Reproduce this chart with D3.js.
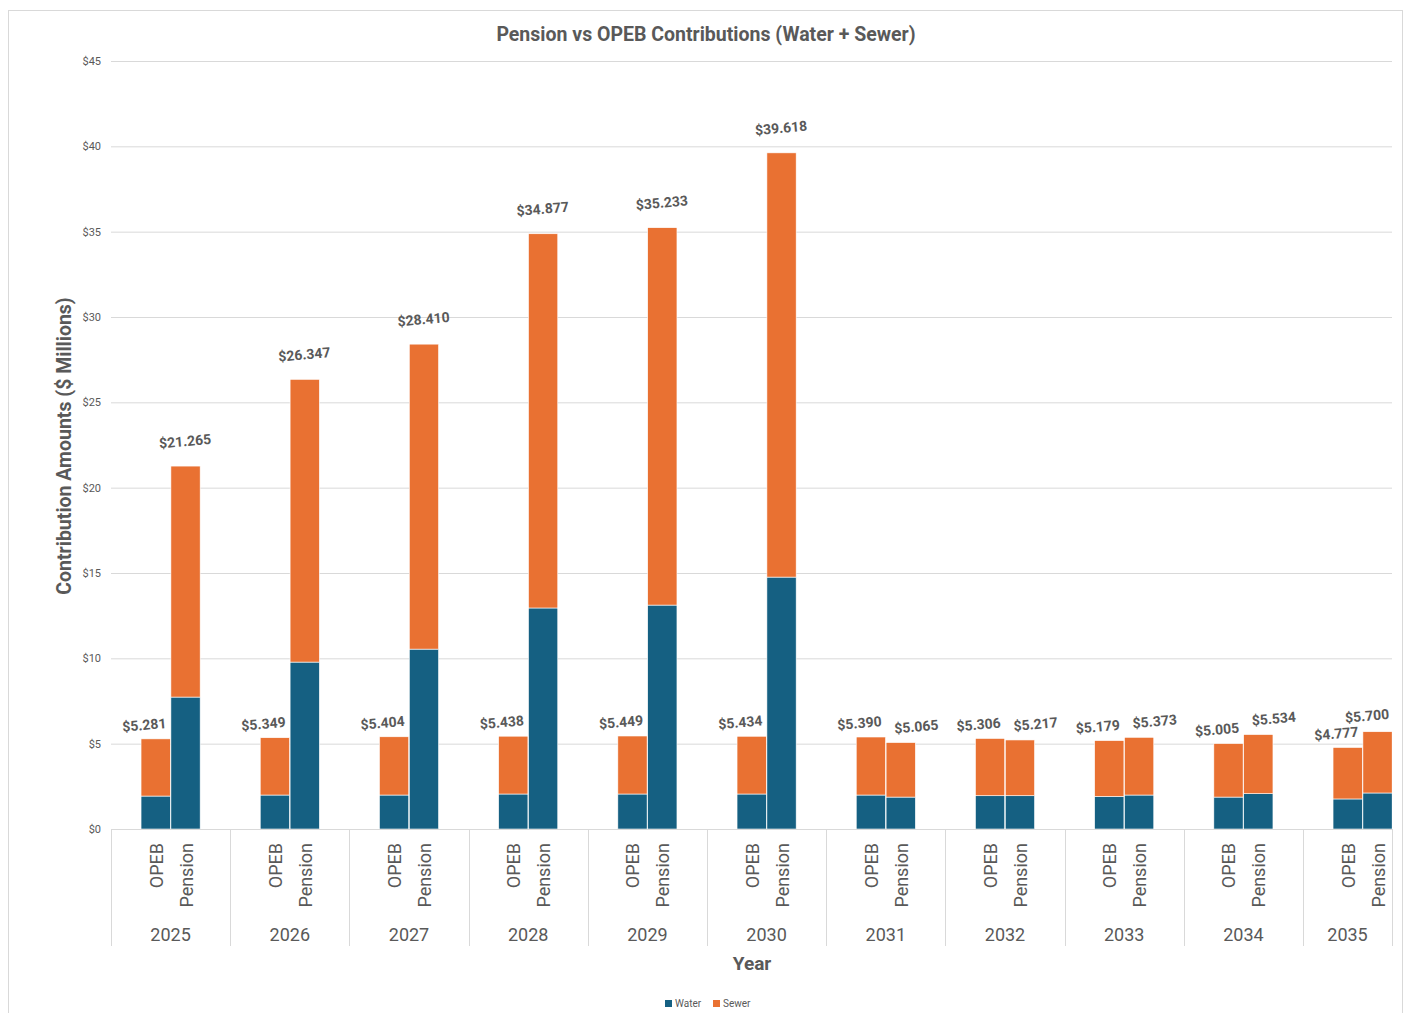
<!DOCTYPE html>
<html lang="en">
<head>
    <meta charset="utf-8">
    <title>Pension vs OPEB</title>
    <script src="https://cdn.jsdelivr.net/npm/d3@7"></script>
    <style type="text/css">
        body { margin: 0; background: #fff; }
        text { font-family: Roboto, "Liberation Sans", sans-serif; fill: #595959; }
        .grid line { stroke: #d9d9d9; stroke-width: 1; }
        .grid path { display: none; }
        .ytick text { font-size: 11px; }
    </style>
</head>
<body>
    <div id="chart"></div>
    <script>
        // data
        var years = ["2025", "2026", "2027", "2028", "2029", "2030", "2031", "2032", "2033", "2034", "2035"];
        var types = ["OPEB", "Pension"];
        var opebTotal = [5.281, 5.349, 5.404, 5.438, 5.449, 5.434, 5.390, 5.306, 5.179, 5.005, 4.777];
        var opebWater = [1.93, 1.99, 1.99, 2.05, 2.05, 2.05, 1.99, 1.95, 1.91, 1.87, 1.76];
        var pensionTotal = [21.265, 26.347, 28.410, 34.877, 35.233, 39.618, 5.065, 5.217, 5.373, 5.534, 5.700];
        var pensionWater = [7.73, 9.78, 10.54, 12.95, 13.12, 14.76, 1.87, 1.95, 1.99, 2.07, 2.11];
        var yTicks = [0, 5, 10, 15, 20, 25, 30, 35, 40, 45];
        var seriesNames = ["Water", "Sewer"];
        var colors = { Water: "#156082", Sewer: "#E97132" };

        var W = 1409, H = 1013;
        // the last year group is cut off by the right end of the plot
        var plot = { left: 111, right: 1392, top: 61, bottom: 829, groupW: 119.2 };

        var rows = [];
        years.forEach(function (y, i) {
            rows.push({ year: y, type: "OPEB", Water: opebWater[i], Sewer: opebTotal[i] - opebWater[i], total: opebTotal[i], i: i });
            rows.push({ year: y, type: "Pension", Water: pensionWater[i], Sewer: pensionTotal[i] - pensionWater[i], total: pensionTotal[i], i: i });
        });

        var svg = d3.select("#chart").append("svg")
            .attr("width", W)
            .attr("height", H);

        // chart border
        svg.append("rect")
            .attr("x", 8.5).attr("y", 10.5)
            .attr("width", 1394).attr("height", 1020)
            .attr("fill", "none").attr("stroke", "#d9d9d9");

        svg.append("clipPath").attr("id", "plotclip")
            .append("rect")
            .attr("x", plot.left).attr("y", 0)
            .attr("width", plot.right - plot.left).attr("height", H);

        var x0 = d3.scaleBand().domain(years)
            .range([plot.left, plot.left + plot.groupW * years.length]).padding(0);
        var bw = x0.bandwidth();
        var x1 = d3.scaleBand().domain(types).range([bw * 0.252, bw * 0.748]).paddingInner(0.02);
        var y = d3.scaleLinear().domain([0, 45]).range([plot.bottom, plot.top]);

        // gridlines
        svg.append("g")
            .attr("class", "grid ytick")
            .attr("transform", "translate(" + plot.left + ",0)")
            .call(d3.axisLeft(y).tickValues(yTicks).tickSize(-(plot.right - plot.left)).tickPadding(10)
                .tickFormat(function (d) { return "$" + d; }))
            .call(function (g) { g.selectAll("line").filter(function (d) { return d === 0; }).remove(); });

        // stacked bars
        var stack = d3.stack().keys(seriesNames);
        var stacked = stack(rows);

        svg.append("g").attr("clip-path", "url(#plotclip)")
            .selectAll("g")
            .data(stacked)
            .enter().append("g")
            .attr("fill", function (d) { return colors[d.key]; })
            .selectAll("rect")
            .data(function (d) { return d; })
            .enter().append("rect")
            .attr("x", function (d) { return x0(d.data.year) + x1(d.data.type); })
            .attr("width", x1.bandwidth())
            .attr("y", function (d) { return y(d[1]); })
            .attr("height", function (d) { return y(d[0]) - y(d[1]); })
            .attr("stroke", "#ffffff")
            .attr("stroke-width", 0.6);

        // data labels
        var last = years.length - 1;
        svg.append("g").selectAll("text")
            .data(rows)
            .enter().append("text")
            .attr("transform", function (d) {
                var cx = x0(d.year) + x1(d.type) + x1.bandwidth() / 2;
                var dx, ty;
                if (d.type === "OPEB") {
                    dx = -11;
                    ty = y(d.total) - 9;
                } else if (d.total > 10) {
                    dx = 0;
                    ty = y(d.total) - 20;
                } else {
                    dx = d.i === last ? -10 : 16;
                    ty = y(d.total) - 11;
                }
                return "translate(" + (cx + dx) + "," + ty + ") rotate(-5)";
            })
            .attr("text-anchor", "middle")
            .style("font-size", "14px")
            .style("font-weight", "bold")
            .text(function (d) { return "$" + d.total.toFixed(3); });

        // x axis line and group separators
        svg.append("line")
            .attr("x1", plot.left).attr("x2", plot.right)
            .attr("y1", plot.bottom + 0.5).attr("y2", plot.bottom + 0.5)
            .attr("stroke", "#d9d9d9");

        var bounds = years.map(function (d) { return x0(d); }).concat([plot.right]);
        svg.append("g").selectAll("line")
            .data(bounds)
            .enter().append("line")
            .attr("x1", function (d) { return Math.round(d) + 0.5; })
            .attr("x2", function (d) { return Math.round(d) + 0.5; })
            .attr("y1", plot.bottom).attr("y2", 946)
            .attr("stroke", "#d9d9d9");

        // category labels
        svg.append("g").selectAll("text")
            .data(rows)
            .enter().append("text")
            .attr("transform", function (d) {
                var cx = x0(d.year) + x1(d.type) + x1.bandwidth() / 2 + 7;
                return "translate(" + cx + ",843) rotate(-90)";
            })
            .attr("text-anchor", "end")
            .style("font-size", "18px")
            .text(function (d) { return d.type; });

        svg.append("g").selectAll("text")
            .data(years)
            .enter().append("text")
            .attr("x", function (d) {
                var a = x0(d), b = Math.min(x0(d) + bw, plot.right);
                return (a + b) / 2;
            })
            .attr("y", 941)
            .attr("text-anchor", "middle")
            .style("font-size", "18px")
            .text(function (d) { return d; });

        // titles
        svg.append("text")
            .attr("x", 706).attr("y", 41)
            .attr("text-anchor", "middle")
            .style("font-size", "19.5px")
            .style("font-weight", "bold")
            .text("Pension vs OPEB Contributions (Water + Sewer)");

        svg.append("text")
            .attr("transform", "translate(71,446) rotate(-90)")
            .attr("text-anchor", "middle")
            .style("font-size", "19.5px")
            .style("font-weight", "bold")
            .text("Contribution Amounts ($ Millions)");

        svg.append("text")
            .attr("x", 752).attr("y", 970)
            .attr("text-anchor", "middle")
            .style("font-size", "19px")
            .style("font-weight", "bold")
            .text("Year");

        // legend
        var legend = svg.append("g").selectAll("g")
            .data(seriesNames)
            .enter().append("g")
            .attr("transform", function (d, i) { return "translate(" + (665 + i * 48) + ",1000)"; });
        legend.append("rect")
            .attr("width", 7).attr("height", 7)
            .attr("fill", function (d) { return colors[d]; });
        legend.append("text")
            .attr("x", 10).attr("y", 7)
            .style("font-size", "10px")
            .text(function (d) { return d; });
    </script>
</body>
</html>
